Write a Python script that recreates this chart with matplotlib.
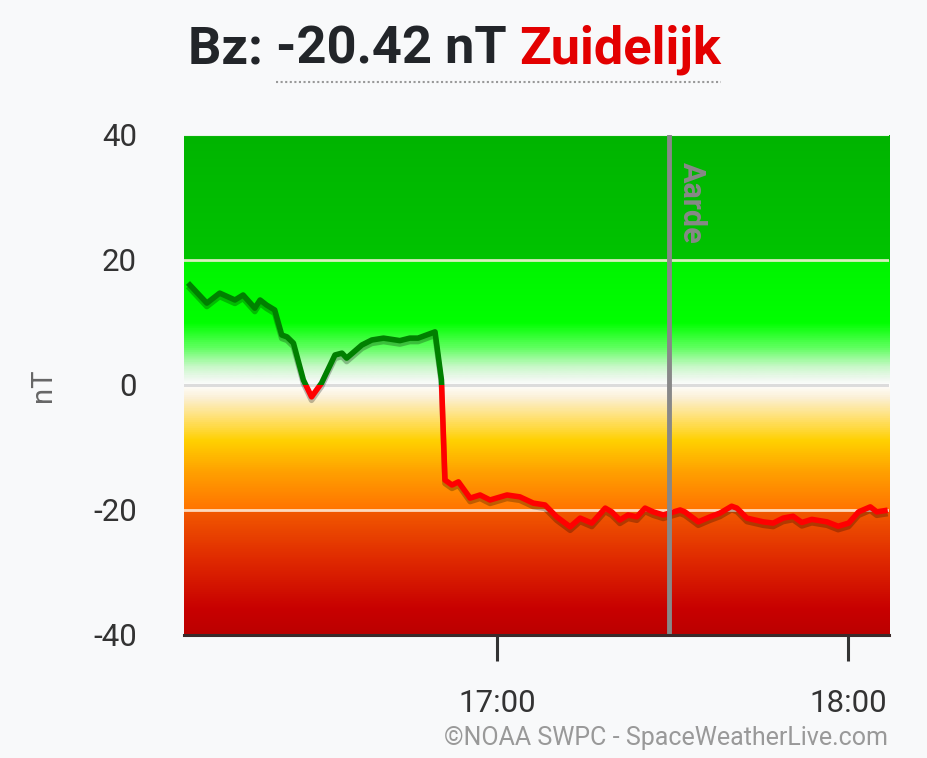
import numpy as np
import matplotlib.pyplot as plt
import matplotlib.patheffects as pe
from matplotlib.colors import LinearSegmentedColormap
from matplotlib.patches import Rectangle

plt.rcParams['font.family'] = ['Roboto', 'DejaVu Sans']

# minutes after 16:00 (UTC) and Bz in nT
minutes = [7.5, 10.4, 12.6, 15.2, 16.6, 18.6, 19.5, 20.6, 22.0, 23.2, 24.1, 25.2,
           26.9, 28.3, 30.0, 32.3, 33.5, 34.3, 36.9, 38.6, 40.6, 43.4, 45.1, 46.5,
           49.4, 50.5, 51.1, 52.3, 53.4, 55.4, 57.1, 58.8, 61.7, 63.9, 66.2, 68.2,
           70.2, 72.5, 74.2, 76.2, 78.5, 79.6, 81.0, 82.4, 83.9, 85.3, 86.7, 88.4,
           91.3, 92.1, 94.4, 96.4, 98.1, 100.1, 101.0, 102.7, 105.5, 107.2, 108.9,
           110.6, 112.1, 113.8, 116.4, 118.3, 120.1, 121.8, 123.8, 124.9, 126.3]
bz = [16.0, 13.1, 14.7, 13.6, 14.4, 12.3, 13.6, 12.8, 12.0, 8.0, 7.7, 6.7,
      0.8, -1.9, 0.3, 4.8, 5.1, 4.3, 6.4, 7.2, 7.5, 7.1, 7.5, 7.5,
      8.5, 0.8, -15.2, -16.0, -15.5, -18.1, -17.6, -18.4, -17.6, -17.9, -18.9, -19.2,
      -21.1, -22.7, -21.3, -22.1, -19.7, -20.3, -21.6, -20.8, -21.1, -19.7, -20.3, -20.8,
      -20.0, -20.3, -21.9, -21.1, -20.5, -19.4, -19.7, -21.3, -21.9, -22.1, -21.3,
      -21.0, -22.0, -21.5, -21.9, -22.6, -22.1, -20.3, -19.5, -20.3, -20.1]

tick_pos = [60, 120]
tick_labels = ['17:00', '18:00']
earth_time = 89.4
x_range = (6.5, 127.0)
y_range = (-40, 40)

bg = '#f8f9fa'
W, H = 928, 758
fig = plt.figure(figsize=(W / 100, H / 100), dpi=100, facecolor=bg)
ax = fig.add_axes([0.1983, 0.1623, 0.7597, 0.6596])
ax.set_facecolor(bg)

# background gradient (value -> colour)
stops = [(-40, '#bc0000'), (-36, '#c80000'), (-28, '#e02a00'), (-20.05, '#f25a00'),
         (-19.95, '#ff7400'), (-14, '#ffa000'), (-9, '#ffd000'), (-5, '#ffe27a'),
         (-2, '#fbf0d6'), (0, '#ffffff'), (1, '#f0f8f0'), (3, '#c8f8c8'),
         (6, '#60ff60'), (10, '#00ff00'), (19.95, '#00f400'), (20.05, '#00c400'),
         (40, '#00b400')]
cmap = LinearSegmentedColormap.from_list(
    'bz', [((v + 40) / 80, c) for v, c in stops])
grad = np.linspace(0, 1, 800).reshape(-1, 1)
ax.imshow(grad, cmap=cmap, aspect='auto', origin='lower',
          extent=[x_range[0], x_range[1], y_range[0], y_range[1]], zorder=0)

for yv in [20, -20]:
    ax.axhline(yv, color='#fff0e0', lw=2, alpha=0.85, zorder=1)
ax.axhline(0, color='#dcdcdc', lw=2.2, zorder=1)
ax.axhline(40, color='#e8f5e8', lw=1.5, zorder=1)

shadow = [pe.SimpleLineShadow(offset=(0, -2.5), shadow_color='black', alpha=0.25),
          pe.Normal()]
green, = ax.plot(minutes, bz, color='#008000', lw=4, zorder=3,
                 solid_joinstyle='round', path_effects=shadow)
red, = ax.plot(minutes, bz, color='#ff0000', lw=4, zorder=3,
               solid_joinstyle='round', path_effects=shadow)
top = Rectangle((x_range[0], 0), x_range[1] - x_range[0], 60, transform=ax.transData)
bottom = Rectangle((x_range[0], -60), x_range[1] - x_range[0], 60, transform=ax.transData)
green.set_clip_path(top)
red.set_clip_path(bottom)

ax.axvline(earth_time, color='#888888', lw=3.5, zorder=4)
ax.text(earth_time + 1.3, 35.6, 'Aarde', rotation=-90, ha='left', va='top',
        color='#888888', fontsize=22, fontweight='bold', zorder=4)

ax.set_xlim(*x_range)
ax.set_ylim(*y_range)
ax.set_yticks([-40, -20, 0, 20, 40])
ax.set_yticklabels(['-40', '-20', '0', '20', '40'])
ax.set_xticks(tick_pos)
ax.set_xticklabels(tick_labels)
ax.tick_params(axis='y', length=0, pad=34, labelsize=22.5, labelcolor='#333333')
ax.tick_params(axis='x', length=19, width=2.2, color='#333333', pad=20,
               labelsize=22.5, labelcolor='#333333')
for s in ['top', 'left', 'right']:
    ax.spines[s].set_visible(False)
ax.spines['bottom'].set_color('#3a2a2a')
ax.spines['bottom'].set_linewidth(2.2)
ax.spines['bottom'].set_zorder(5)

ax.set_ylabel('nT', fontsize=21, color='#666666', labelpad=26)

# title: three pieces laid out left to right
title_y = 0.935
parts = [('Bz: ', '#222529'), ('-20.42 nT ', '#222529'), ('Zuidelijk', '#e30000')]
x = 188
spans = []
for txt, col in parts:
    t = fig.text(x / W, title_y, txt, ha='left', va='center', fontsize=37.7,
                 fontweight='bold', color=col)
    fig.canvas.draw()
    bb = t.get_window_extent()
    spans.append((bb.x0, bb.x1))
    x = bb.x1
fig.add_artist(plt.Line2D([spans[1][0] / W, spans[2][1] / W], [0.892, 0.892],
                          transform=fig.transFigure, color='#999999',
                          lw=1.5, ls=(0, (1, 1.2))))

fig.text(888 / W, 0.011, '\u00a9NOAA SWPC - SpaceWeatherLive.com',
         ha='right', va='bottom', fontsize=18, color='#999999')

fig.savefig('out.png', dpi=100, facecolor=bg)
